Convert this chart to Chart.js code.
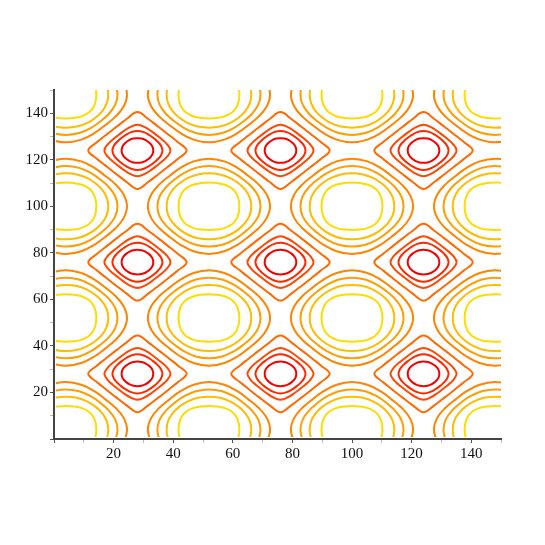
<!DOCTYPE html>
<html>
<head>
<meta charset="utf-8">
<script src="https://cdn.jsdelivr.net/npm/chart.js@4.4.1/dist/chart.umd.min.js"></script>
<style>
  html, body { margin: 0; padding: 0; background: #fff; }
  canvas { display: block; }
</style>
</head>
<body>
<canvas id="contour" width="545" height="545" style="width:545px;height:545px"></canvas>
<script>
// centres of the red loops (low) and yellow loops (high)
const lowX = [28, 76, 124];
const lowY = [28, 76, 124];
const highX = [4, 52, 100, 148];
const highY = [4, 52, 100, 148];

// loop radius read at 0, 15, 30, 45 degrees (the rest is mirrored)
const sampleAngles = [0, 15, 30, 45];
const lowRadii = [
  [5.3, 5.3, 5.25, 5.2],
  [8.4, 8.15, 7.75, 7.6],
  [11.1, 10.3, 9.5, 9.2],
  [16.5, 14.0, 12.6, 12.2]
];
const highRadii = [
  [20.5, 20.0, 19.1, 18.6],
  [17.3, 17.1, 16.6, 16.3],
  [14.2, 14.2, 14.1, 14.0],
  [10.2, 10.35, 10.7, 10.9]
];
// contour colours, lowest level first
const lowColors = ['#f50000', '#ff2600', '#ff4800', '#ff6a00'];
const highColors = ['#ff8400', '#ff9e00', '#ffbc00', '#ffdc00'];

const tickStep = 10;
const labelStep = 20;

function radiusAt(radii, deg) {
  let t = ((deg % 90) + 90) % 90;
  if (t > 45) t = 90 - t;
  return radii[sampleAngles.indexOf(t)];
}

// closed loop; one extra point each end so the curve joins smoothly
function loop(cx, cy, radii) {
  const pts = [];
  for (let a = -15; a <= 375; a += 15) {
    const r = radiusAt(radii, a);
    const rad = a * Math.PI / 180;
    pts.push({ x: cx + r * Math.cos(rad), y: cy + r * Math.sin(rad) });
  }
  return pts;
}

const datasets = [];
function addLoops(xs, ys, radiiList, colors) {
  radiiList.forEach((radii, i) => {
    xs.forEach(cx => {
      ys.forEach(cy => {
        const data = loop(cx, cy, radii);
        const last = data.length - 1;
        datasets.push({
          data: data,
          showLine: true,
          borderColor: colors[i],
          borderWidth: 2,
          pointRadius: 0,
          tension: 0.4,
          clip: { left: -2, top: 0, right: 0, bottom: -2 },
          segment: {
            borderColor: ctx => (ctx.p0DataIndex === 0 || ctx.p1DataIndex === last) ? 'rgba(0,0,0,0)' : undefined
          }
        });
      });
    });
  });
}
addLoops(lowX, lowY, lowRadii, lowColors);
addLoops(highX, highY, highRadii, highColors);

const tickFont = { family: '"Liberation Serif", "Times New Roman", serif', size: 15 };
function axis(extra) {
  return Object.assign({
    type: 'linear',
    min: 0,
    max: 150,
    ticks: {
      stepSize: tickStep,
      autoSkip: false,
      maxRotation: 0,
      font: tickFont,
      color: '#111',
      padding: 2,
      callback: v => (v > 0 && v % labelStep === 0) ? v : ''
    },
    grid: {
      drawOnChartArea: false,
      drawTicks: true,
      tickLength: 4,
      tickWidth: 1,
      tickColor: ctx => (ctx.tick && ctx.tick.value % labelStep === 0) ? '#555' : '#bbb'
    },
    border: { color: '#444', width: 2 }
  }, extra);
}

new Chart(document.getElementById('contour').getContext('2d'), {
  type: 'scatter',
  data: { datasets: datasets },
  options: {
    responsive: false,
    animation: false,
    devicePixelRatio: 1,
    layout: { padding: { left: 0, right: 44, top: 90, bottom: 76 } },
    elements: { line: { capBezierPoints: false } },
    plugins: { legend: { display: false }, tooltip: { enabled: false } },
    scales: {
      x: axis({ afterFit: s => { s.height = 30; } }),
      y: axis({ afterFit: s => { s.width = 54; } })
    }
  }
});
</script>
</body>
</html>
